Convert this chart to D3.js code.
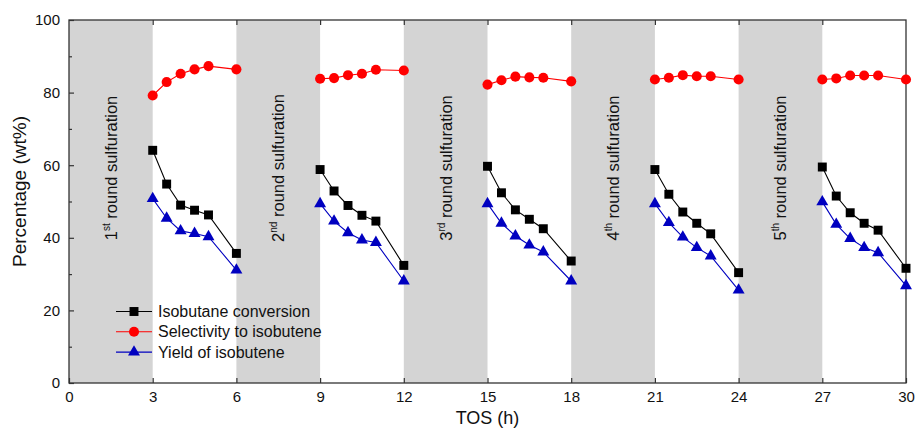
<!DOCTYPE html>
<html>
<head>
<meta charset="utf-8">
<script src="https://cdn.jsdelivr.net/npm/d3@7/dist/d3.min.js"></script>
<style>
  html, body { margin: 0; padding: 0; background: #fff; }
  svg { display: block; font-family: "Liberation Sans", Arial, sans-serif; }
</style>
</head>
<body>
<svg id="chart" width="915" height="429"></svg>
<script>
// Time on stream within each reaction run (h), five runs separated by sulfuration
const runs = [
  [3, 3.5, 4, 4.5, 5, 6],
  [9, 9.5, 10, 10.5, 11, 12],
  [15, 15.5, 16, 16.5, 17, 18],
  [21, 21.5, 22, 22.5, 23, 24],
  [27, 27.5, 28, 28.5, 29, 30]
];
const conversion = [
  [64.1, 54.8, 49.0, 47.6, 46.3, 35.7],
  [58.8, 52.9, 48.9, 46.2, 44.6, 32.4],
  [59.7, 52.4, 47.7, 45.1, 42.5, 33.6],
  [58.8, 52.0, 47.1, 44.0, 41.1, 30.4],
  [59.5, 51.5, 46.9, 44.0, 42.1, 31.6]
];
const selectivity = [
  [79.2, 82.9, 85.2, 86.4, 87.3, 86.4],
  [83.8, 84.0, 84.8, 85.2, 86.3, 86.1],
  [82.2, 83.4, 84.4, 84.2, 84.1, 83.1],
  [83.6, 84.1, 84.8, 84.5, 84.5, 83.6],
  [83.6, 83.9, 84.7, 84.7, 84.7, 83.6]
];
const yieldIsobutene = [
  [50.8, 45.4, 41.9, 41.2, 40.3, 31.1],
  [49.4, 44.6, 41.4, 39.4, 38.7, 28.1],
  [49.4, 44.0, 40.5, 38.0, 36.1, 28.1],
  [49.4, 44.2, 40.2, 37.3, 35.0, 25.6],
  [49.9, 43.7, 39.8, 37.3, 35.9, 26.8]
];
// Sulfuration periods [start, end] (h) and their labels
const sulfurations = [[0, 3], [6, 9], [12, 15], [18, 21], [24, 27]];
const roundNum = ["1", "2", "3", "4", "5"];
const roundSup = ["st", "nd", "rd", "th", "th"];
const seriesNames = ["Isobutane conversion", "Selectivity to isobutene", "Yield of isobutene"];
const xTicks = [0, 3, 6, 9, 12, 15, 18, 21, 24, 27, 30];
const yTicks = [0, 20, 40, 60, 80, 100];
const yMinor = [10, 30, 50, 70, 90];

const svg = d3.select("#chart");
const m = { left: 69, right: 906, top: 20, bottom: 383 };
const x = d3.scaleLinear().domain([0, 30]).range([m.left, m.right]);
const y = d3.scaleLinear().domain([0, 100]).range([m.bottom, m.top]);
const axisColor = "#333";

// Sulfuration bands
svg.append("g").selectAll("rect").data(sulfurations).join("rect")
  .attr("x", d => x(d[0])).attr("y", m.top)
  .attr("width", d => x(d[1]) - x(d[0])).attr("height", m.bottom - m.top)
  .attr("fill", "#d4d4d4");

// Band labels, rotated
sulfurations.forEach((d, i) => {
  const cx = (x(d[0]) + x(d[1])) / 2 + 6, cy = 168;
  const t = svg.append("text")
    .attr("transform", `translate(${cx},${cy}) rotate(-90)`)
    .attr("text-anchor", "middle")
    .attr("font-size", 16.5).attr("fill", "#111");
  t.append("tspan").text(roundNum[i]);
  t.append("tspan").attr("font-size", 10).attr("dy", -7).text(roundSup[i]);
  t.append("tspan").attr("dy", 7).text(" round sulfuration");
});

// Axes
const bottomAxis = d3.axisBottom(x).tickValues(xTicks).tickSize(-5).tickPadding(8).tickFormat(d3.format("d"));
const topAxis = d3.axisTop(x).tickValues(xTicks.slice(1, -1)).tickSize(-5).tickFormat("");
const leftAxis = d3.axisLeft(y).tickValues(yTicks).tickSize(-5).tickPadding(9).tickFormat(d3.format("d"));
const leftMinor = d3.axisLeft(y).tickValues(yMinor).tickSize(-3).tickFormat("");

function styleAxis(g) {
  g.select(".domain").remove();
  g.selectAll("line").attr("stroke", axisColor).attr("stroke-width", 1.2);
  g.selectAll("text").attr("font-size", 15).attr("fill", "#111").attr("font-family", "Liberation Sans, Arial, sans-serif");
}
svg.append("g").attr("transform", `translate(0,${m.bottom})`).call(bottomAxis).call(styleAxis);
svg.append("g").attr("transform", `translate(0,${m.top})`).call(topAxis).call(styleAxis);
svg.append("g").attr("transform", `translate(${m.left},0)`).call(leftAxis).call(styleAxis);
svg.append("g").attr("transform", `translate(${m.left},0)`).call(leftMinor).call(styleAxis);

// Frame
svg.append("rect")
  .attr("x", m.left).attr("y", m.top)
  .attr("width", m.right - m.left).attr("height", m.bottom - m.top)
  .attr("fill", "none").attr("stroke", axisColor).attr("stroke-width", 1.3);

// Axis titles
svg.append("text").attr("x", (m.left + m.right) / 2).attr("y", 424)
  .attr("text-anchor", "middle").attr("font-size", 18).attr("fill", "#111").text("TOS (h)");
svg.append("text").attr("transform", `translate(26,${(m.top + m.bottom) / 2 - 10}) rotate(-90)`)
  .attr("text-anchor", "middle").attr("font-size", 19).attr("fill", "#111").text("Percentage (wt%)");

// Series
const series = [
  { values: conversion, color: "#000", marker: d3.symbolSquare, size: 80 },
  { values: selectivity, color: "#ff0000", marker: d3.symbolCircle, size: 80 },
  { values: yieldIsobutene, color: "#0000c0", marker: d3.symbolTriangle, size: 62 }
];
const line = d3.line().x(d => x(d[0])).y(d => y(d[1]));

series.forEach(s => {
  const g = svg.append("g");
  runs.forEach((tos, r) => {
    const pts = tos.map((t, k) => [t, s.values[r][k]]);
    g.append("path").attr("d", line(pts)).attr("fill", "none")
      .attr("stroke", s.color).attr("stroke-width", 1.1);
    g.selectAll(null).data(pts).join("path")
      .attr("transform", d => `translate(${x(d[0])},${y(d[1])})`)
      .attr("d", d3.symbol().type(s.marker).size(s.size))
      .attr("fill", s.color);
  });
});

// Legend
const legend = svg.append("g");
seriesNames.forEach((name, i) => {
  const ly = 311.5 + i * 20.3;
  const s = series[i];
  legend.append("line").attr("x1", 116).attr("x2", 152).attr("y1", ly).attr("y2", ly)
    .attr("stroke", s.color).attr("stroke-width", 1.1);
  legend.append("path").attr("transform", `translate(134,${ly})`)
    .attr("d", d3.symbol().type(s.marker).size(s.size)).attr("fill", s.color);
  legend.append("text").attr("x", 158).attr("y", ly + 5.5)
    .attr("font-size", 16).attr("fill", "#111").text(name);
});
</script>
</body>
</html>
